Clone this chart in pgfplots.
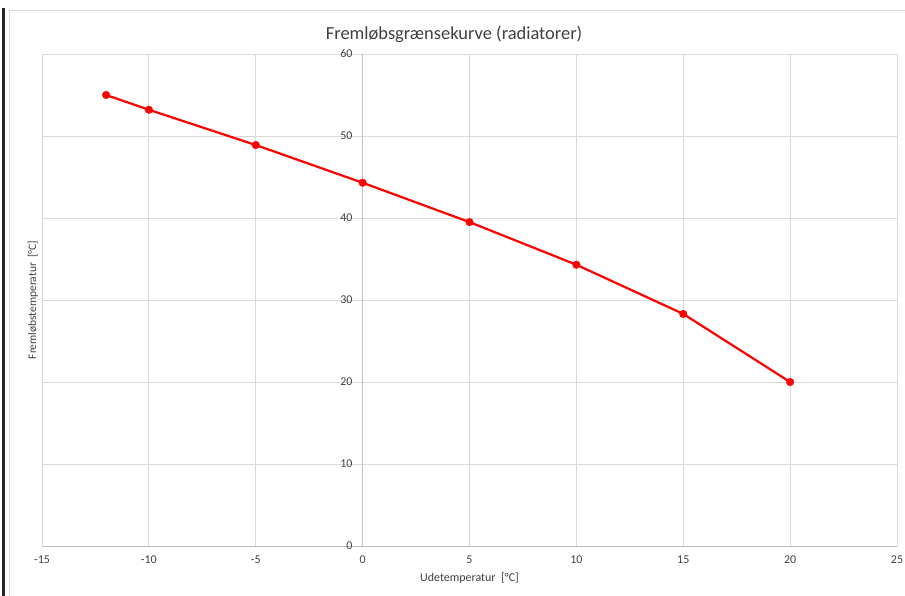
\documentclass[border=0pt]{standalone}
\usepackage{fontspec}
\setmainfont{Carlito}
\usepackage{pgfplots}
\pgfplotsset{compat=1.18}
\definecolor{gridc}{HTML}{D9D9D9}
\definecolor{axc}{HTML}{BFBFBF}
\definecolor{txt}{HTML}{404040}
\begin{document}
\begin{tikzpicture}
\useasboundingbox (0bp,0bp) rectangle (905bp,596bp);
% page edge, cut-off heading and chart frame
\draw[black!85, line width=2.5bp] (3.5bp,0bp) -- (3.5bp,588bp);
\node[anchor=base west, inner sep=0pt, font=\bfseries\fontsize{34}{34}\selectfont] at (102bp,602bp) {g};
\draw[gridc, line width=0.8bp] (9.5bp,0bp) -- (9.5bp,586bp) -- (905bp,586bp);
\begin{axis}[
    at={(42bp,50bp)}, anchor=south west,
    scale only axis, width=855bp, height=492bp,
    xmin=-15, xmax=25, ymin=0, ymax=60,
    xtick={-15,-10,...,25}, ytick={0,10,...,60},
    axis x line=bottom, axis y line=middle,
    hide obscured x ticks=false, hide obscured y ticks=false,
    axis line style={-, draw=axc, line width=0.8bp},
    grid=major, major grid style={gridc, line width=0.8bp},
    major tick length=0pt,
    tick label style={font=\fontsize{12}{14}\selectfont, text=txt},
    xticklabel style={anchor=center, inner sep=0pt, yshift=-14bp},
    yticklabel style={anchor=east, inner sep=0pt, xshift=-10bp},
    /pgf/number format/assume math mode=true,
    title={Fremløbsgrænsekurve (radiatorer)},
    title style={font=\fontsize{18.5}{22}\selectfont, text=txt,
        at={(axis description cs:0.482,1)}, anchor=center, yshift=14bp},
    xlabel={Udetemperatur\ \ [°C]},
    xlabel style={font=\fontsize{12}{14}\selectfont, text=txt,
        at={(axis description cs:0.5,-0.065)}, anchor=center},
    ylabel={Fremløbstemperatur\ \ [°C]},
    ylabel style={font=\fontsize{11.5}{14}\selectfont, text=txt, rotate=90,
        at={(axis description cs:-0.0105,0.5)}, anchor=center},
]
\addplot[color=red, line width=2.2bp, mark=*, mark size=3.8bp,
    mark options={solid, fill=red, draw=red, line width=0.4bp}] coordinates {
    (-12,55.0) (-10,53.2) (-5,48.9) (0,44.3) (5,39.5) (10,34.3) (15,28.3) (20,20.0)
};
\end{axis}
\end{tikzpicture}
\end{document}
